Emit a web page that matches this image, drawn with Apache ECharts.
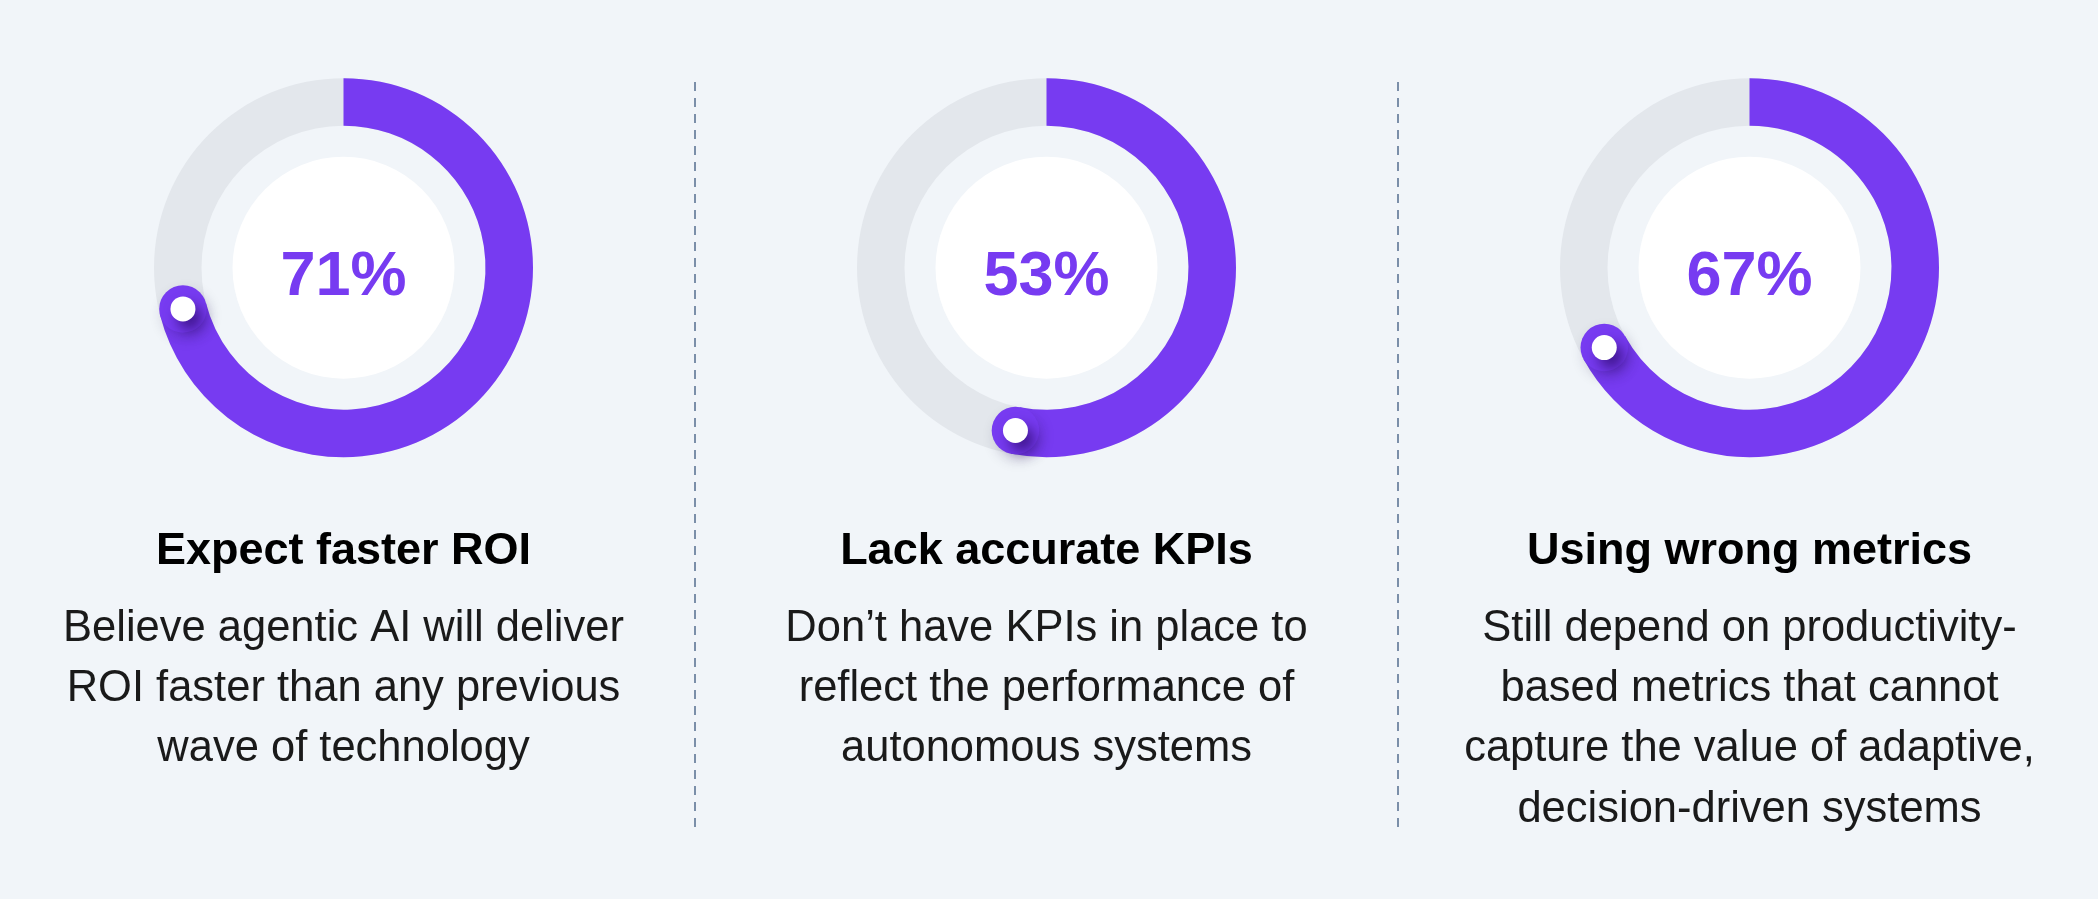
<!DOCTYPE html>
<html>
<head>
<meta charset="utf-8">
<script src="https://cdn.jsdelivr.net/npm/echarts@6/dist/echarts.min.js"></script>
<style>
  html, body { margin: 0; padding: 0; background: #F1F5F9; }
  #chart { width: 2098px; height: 899px; }
</style>
</head>
<body>
<div id="chart"></div>
<script>
// ---- data ----
const values = [71, 53, 67];
const titles = ['Expect faster ROI', 'Lack accurate KPIs', 'Using wrong metrics'];
const descriptions = [
  ['Believe agentic AI will deliver', 'ROI faster than any previous', 'wave of technology'],
  ['Don\u2019t have KPIs in place to', 'reflect the performance of', 'autonomous systems'],
  ['Still depend on productivity-', 'based metrics that cannot', 'capture the value of adaptive,', 'decision-driven systems']
];

// ---- layout / style ----
const PURPLE = '#773BF1';
const TRACK = '#E3E7EC';
const centersX = [343.5, 1046.5, 1749.5];
const CY = 267.7;
const R_IN = 142, R_OUT = 189.5, R_WHITE = 111;
const RING_W = R_OUT - R_IN;
const FONT = '"Liberation Sans", Arial, Helvetica, sans-serif';

const chart = echarts.init(document.getElementById('chart'), null, { renderer: 'canvas' });

const polar = [], angleAxis = [], radiusAxis = [], series = [], graphic = [];

values.forEach((v, i) => {
  // ring: track + progress
  series.push({
    type: 'gauge', center: [centersX[i], CY], radius: R_OUT,
    startAngle: 90, endAngle: -270, min: 0, max: 100, clockwise: true,
    silent: true, z: 1,
    axisLine: { show: true, roundCap: false, lineStyle: { width: RING_W, color: [[1, TRACK]] } },
    progress: { show: true, width: RING_W, roundCap: false, itemStyle: { color: PURPLE } },
    splitLine: { show: false }, axisTick: { show: false }, axisLabel: { show: false },
    pointer: { show: false }, anchor: { show: false }, title: { show: false }, detail: { show: false },
    data: [{ value: v }]
  });

  // polar system used to place the end knob on the ring
  polar.push({ center: [centersX[i], CY], radius: [R_IN, R_OUT] });
  angleAxis.push({ polarIndex: i, type: 'value', min: 0, max: 100, startAngle: 90, clockwise: true, show: false });
  radiusAxis.push({ polarIndex: i, type: 'category', data: ['v'], show: false });

  // rounded end cap
  series.push({
    type: 'scatter', coordinateSystem: 'polar', polarIndex: i, data: [[0, v]],
    symbol: 'circle', symbolSize: RING_W, silent: true, z: 3,
    itemStyle: { color: PURPLE, opacity: 1, shadowBlur: 14, shadowColor: 'rgba(30,20,60,0.16)', shadowOffsetX: 3, shadowOffsetY: 6 }
  });
  // white knob dot
  series.push({
    type: 'scatter', coordinateSystem: 'polar', polarIndex: i, data: [[0, v]],
    symbol: 'circle', symbolSize: 25, silent: true, z: 4,
    itemStyle: { color: '#FFFFFF', opacity: 1, shadowBlur: 14, shadowColor: 'rgba(45,10,110,0.75)', shadowOffsetX: 7, shadowOffsetY: 9 }
  });
  // white centre with percentage
  series.push({
    type: 'pie', center: [centersX[i], CY], radius: [0, R_WHITE], silent: true, z: 5,
    data: [{ value: v, name: titles[i] }],
    itemStyle: { color: '#FFFFFF' },
    label: {
      show: true, position: 'center', formatter: v + '%',
      fontSize: 63, fontWeight: 'bold', fontFamily: FONT, color: PURPLE, offset: [0, 10]
    },
    labelLine: { show: false },
    emphasis: { disabled: true }
  });

  // title
  graphic.push({
    type: 'text', silent: true,
    style: { text: titles[i], x: centersX[i], y: 551.5, align: 'center', verticalAlign: 'middle',
             font: 'bold 45px ' + FONT, fill: '#000000' }
  });
  descriptions[i].forEach((line, j) => {
    graphic.push({
      type: 'text', silent: true,
      style: { text: line, x: centersX[i], y: 629 + j * 60.2, align: 'center', verticalAlign: 'middle',
               font: '43.5px ' + FONT, fill: '#1A1A1A' }
    });
  });
});

// dashed dividers
[695, 1398].forEach(x => {
  graphic.push({
    type: 'line', silent: true,
    shape: { x1: x, y1: 82, x2: x, y2: 829 },
    style: { stroke: '#7B8FA9', lineWidth: 2, lineDash: [9, 7] }
  });
});

chart.setOption({
  backgroundColor: '#F1F5F9',
  animation: false,
  polar, angleAxis, radiusAxis, series, graphic
});
</script>
</body>
</html>
